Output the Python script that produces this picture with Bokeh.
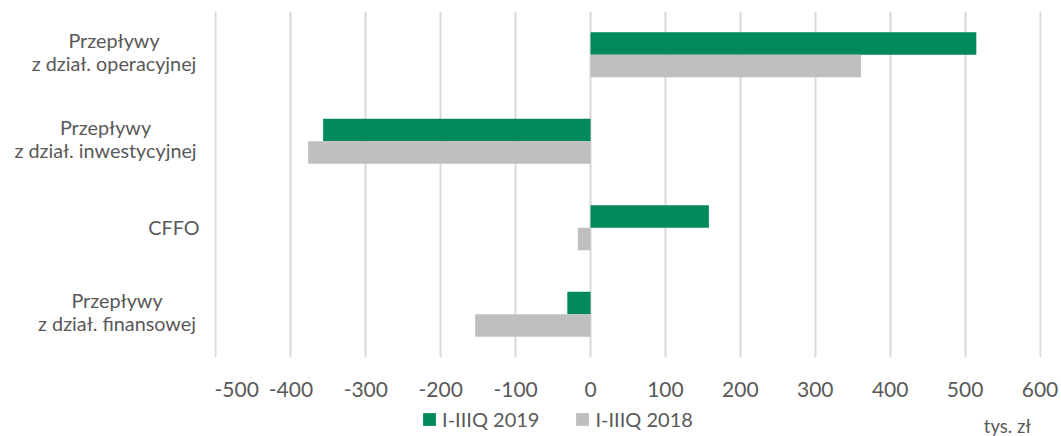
from bokeh.plotting import figure
from bokeh.layouts import column, row
from bokeh.models import ColumnDataSource, FactorRange, Range1d, FixedTicker, Legend, LegendItem, Label
from bokeh.transform import dodge
from bokeh.core.properties import value
from bokeh.embed import file_html
from bokeh.resources import INLINE

categories = ["Przepływy\nz dział. operacyjnej", "Przepływy\nz dział. inwestycyjnej", "CFFO",
              "Przepływy\nz dział. finansowej"]
values_2019 = [515, -357, 158, -31]
values_2018 = [361, -377, -17, -154]
series_names = ["I-IIIQ 2019", "I-IIIQ 2018"]
x_ticks = [-500, -400, -300, -200, -100, 0, 100, 200, 300, 400, 500, 600]
x_tick_labels = ["-500", "-400", "-300", "-200", "-100", "0", "100", "200", "300", "400", "500", "600"]
unit_label = "tys. zł"

# layout only: approximate pixel width of each category label block (lines are centred in it)
label_block_widths = [163, 180, 43, 157]

GREEN = "#00895A"
GREY = "#BFBFBF"
TEXT = "#595959"
FONT = "Lato"

W, H = 1061, 436
LEFT_W = 214          # width of the category-label strip
TOP_H = 405           # height of the chart row
BOTTOM_H = H - TOP_H  # legend strip

y_range = FactorRange(factors=categories[::-1])
x_range = Range1d(-502, 602)

# ---------------- main chart ----------------
src = ColumnDataSource(dict(cat=categories, v19=values_2019, v18=values_2018))
p = figure(width=W - LEFT_W, height=TOP_H, output_backend="svg", toolbar_location=None,
           y_range=y_range, x_range=x_range,
           min_border_left=0, min_border_right=20, min_border_top=11, min_border_bottom=48)
p.outline_line_color = None

r1 = p.hbar(y=dodge("cat", 0.13, range=y_range), left=0, right="v19", height=0.26,
            source=src, fill_color=GREEN, line_color=None)
r2 = p.hbar(y=dodge("cat", -0.13, range=y_range), left=0, right="v18", height=0.26,
            source=src, fill_color=GREY, line_color=None)

p.xgrid.ticker = FixedTicker(ticks=x_ticks)
p.xgrid.grid_line_color = "#D9D9D9"
p.xgrid.grid_line_width = 2
p.ygrid.grid_line_color = None
p.xgrid.level = "underlay"

p.xaxis.ticker = FixedTicker(ticks=x_ticks)
p.xaxis.major_label_overrides = {t: s for t, s in zip(x_ticks, x_tick_labels)}
p.xaxis.axis_line_color = None
p.xaxis.major_tick_line_color = None
p.xaxis.minor_tick_line_color = None
p.xaxis.major_label_standoff = 18
p.xaxis.major_label_text_font = FONT
p.xaxis.major_label_text_font_size = "21px"
p.xaxis.major_label_text_color = TEXT
p.yaxis.visible = False

# ---------------- category labels ----------------
lab_x, lab_cat, lab_text, lab_off = [], [], [], []
for cat, bw in zip(categories, label_block_widths):
    lines = cat.split("\n")
    offs = [-0.5] if len(lines) == 1 else [-14.4, 8.4]
    for ln, yo in zip(lines, offs):
        lab_x.append(195 - bw / 2)
        lab_cat.append(cat)
        lab_text.append(ln)
        lab_off.append(yo)
lab_src = ColumnDataSource(dict(x=lab_x, cat=lab_cat, text=lab_text, yo=lab_off))

pl = figure(width=LEFT_W, height=TOP_H, output_backend="svg", toolbar_location=None,
            y_range=y_range, x_range=Range1d(0, LEFT_W),
            min_border_left=0, min_border_right=0, min_border_top=11, min_border_bottom=48)
pl.axis.visible = False
pl.grid.visible = False
pl.outline_line_color = None
pl.text(x="x", y="cat", text="text", y_offset="yo", source=lab_src,
        text_align="center", text_baseline="alphabetic",
        text_font=value(FONT), text_font_size=value("19.8px"), text_color=TEXT)

# ---------------- legend strip ----------------
pb = figure(width=W, height=BOTTOM_H, output_backend="svg", toolbar_location=None,
            x_range=x_range, y_range=Range1d(0, 1),
            min_border_left=LEFT_W, min_border_right=20, min_border_top=0, min_border_bottom=0)
pb.axis.visible = False
pb.grid.visible = False
pb.outline_line_color = None
# same series, placed off-screen in this strip: they only supply the legend swatches
g1 = pb.hbar(y=-5, left=0, right="v19", height=0.5, source=src, fill_color=GREEN, line_color=None)
g2 = pb.hbar(y=-5, left=0, right="v18", height=0.5, source=src, fill_color=GREY, line_color=None)

legend = Legend(items=[LegendItem(label=series_names[0], renderers=[g1]),
                       LegendItem(label=series_names[1], renderers=[g2])],
                orientation="horizontal", location=(207.1, 5),
                glyph_width=16, glyph_height=16, label_standoff=5, spacing=35,
                padding=0, margin=0, border_line_color=None, background_fill_alpha=0,
                label_text_font=FONT, label_text_font_size="20px", label_text_color=TEXT,
                label_height=23)
pb.add_layout(legend)

pb.add_layout(Label(x=x_ticks[-1], y=11, x_units="data", y_units="screen", x_offset=-9,
                    text=unit_label, text_align="right", text_baseline="alphabetic",
                    text_font=FONT, text_font_size="18.5px", text_color=TEXT))

layout = column(row(pl, p, spacing=0), pb, spacing=0)
open("out.html", "w").write(file_html(layout, INLINE))
